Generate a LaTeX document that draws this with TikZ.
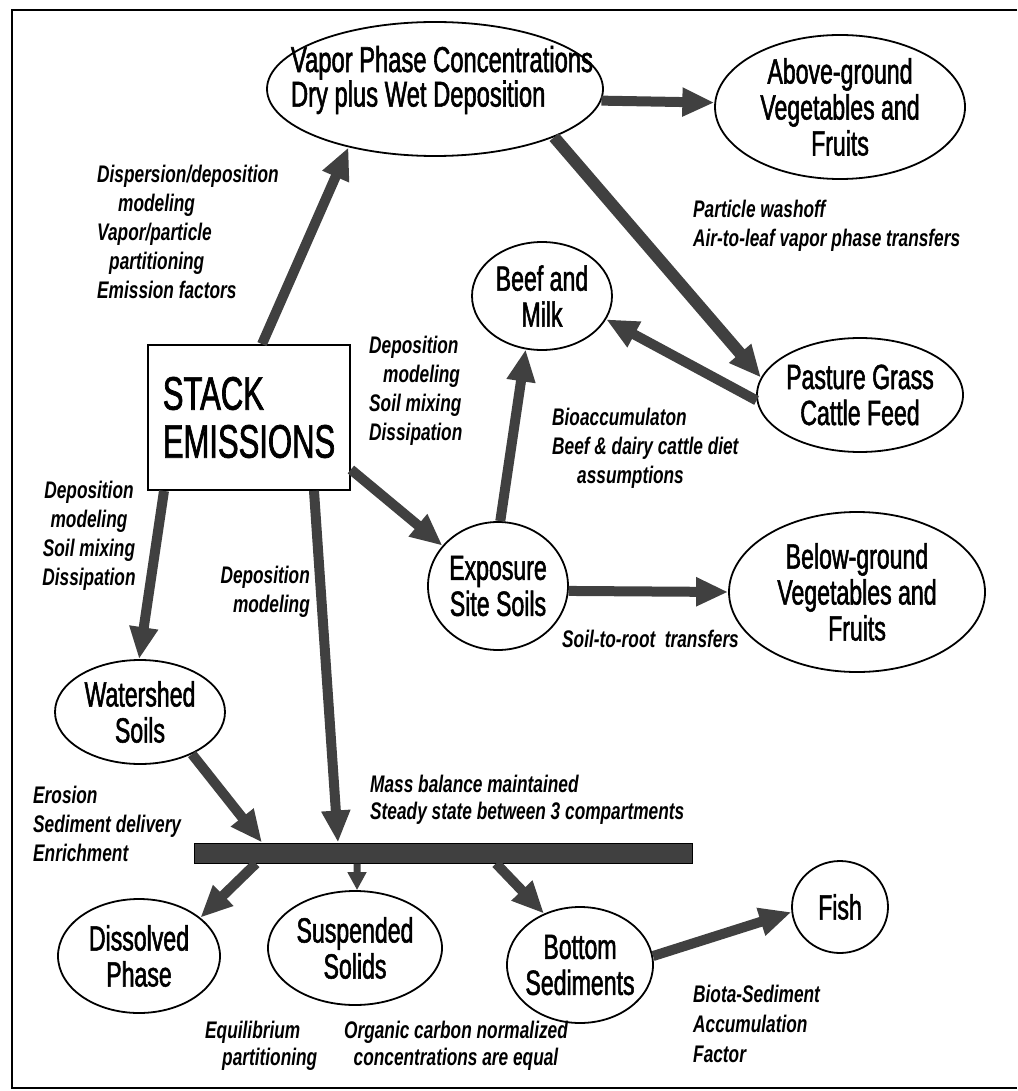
\documentclass[tikz,border=0pt]{standalone}
\usepackage{fontspec}
\setmainfont{Liberation Sans}[FakeStretch=0.72]
\newfontfamily\nodefont{Liberation Sans}[FakeStretch=0.66, FakeBold=1.5]
\usetikzlibrary{arrows.meta, shapes.geometric}

\begin{document}
\begin{tikzpicture}[x=1pt, y=-1pt,
    comp/.style={ellipse, draw, line width=1.8pt, inner sep=0pt},
    comptext/.style={inner sep=0pt, align=center, font=\fontsize{35}{36}\nodefont},
    lbl/.style={anchor=north west, inner sep=0pt, align=left, font=\fontsize{24}{29}\selectfont\bfseries\itshape},
    flow/.style={line width=10pt, draw=black!75, -{Triangle[length=32pt, width=27pt]}},
    ]
    \useasboundingbox (0,0) rectangle (1017,1091);

    % Draw the frame
    \draw[line width=2pt] (1017,10) -- (12,10) -- (12,1088) -- (1017,1088);

    % Draw the source box
    \node[draw, line width=1.8pt, minimum width=202pt, minimum height=145pt, align=left,
          font=\fontsize{47}{48}\nodefont] (stack) at (249,417.5) {STACK\\EMISSIONS};

    % Draw the compartments
    \node[comp, minimum width=336pt, minimum height=134pt] (vapor) at (435,89) {};
    \node[comptext, align=left, font=\fontsize{36}{32}\nodefont] (vapor-t) at ([xshift=7pt, yshift=9pt]vapor.center)
        {Vapor Phase Concentrations\\Dry plus Wet Deposition};
    \node[comp, minimum width=250pt, minimum height=144pt] (above) at (840,107) {};
    \node[comptext] (above-t) at (above) {Above-ground\\Vegetables and\\Fruits};
    \node[comp, minimum width=140pt, minimum height=108pt] (beef) at (542,296) {};
    \node[comptext] (beef-t) at (beef) {Beef and\\Milk};
    \node[comp, minimum width=206pt, minimum height=114pt] (pasture) at (860,395) {};
    \node[comptext] (pasture-t) at (pasture) {Pasture Grass\\Cattle Feed};
    \node[comp, minimum width=140pt, minimum height=128pt] (expo) at (498,586) {};
    \node[comptext] (expo-t) at (expo) {Exposure\\Site Soils};
    \node[comp, minimum width=256pt, minimum height=160pt] (below) at (857,592) {};
    \node[comptext] (below-t) at (below) {Below-ground\\Vegetables and\\Fruits};
    \node[comp, minimum width=170pt, minimum height=104pt] (water) at (140,712) {};
    \node[comptext] (water-t) at (water) {Watershed\\Soils};

    % Draw the water body bar
    \node[draw, line width=1pt, fill=black!75, minimum width=498pt, minimum height=20pt, inner sep=0pt] (bar) at (443,853) {};

    \node[comp, minimum width=162pt, minimum height=114pt] (dissolved) at (139,956) {};
    \node[comptext] (dissolved-t) at (dissolved) {Dissolved\\Phase};
    \node[comp, minimum width=174pt, minimum height=114pt] (suspended) at (355,948) {};
    \node[comptext] (suspended-t) at (suspended) {Suspended\\Solids};
    \node[comp, minimum width=146pt, minimum height=116pt] (bottom) at (580,965) {};
    \node[comptext] (bottom-t) at (bottom) {Bottom\\Sediments};
    \node[comp, minimum width=96pt, minimum height=92pt] (fish) at (840,907) {};
    \node[comptext] (fish-t) at (fish) {Fish};

    % Draw the transfer arrows
    \draw[flow] ([xshift=13pt]stack.north) -- (vapor.214);
    \draw[flow] (vapor.356) -- (above.178);
    \draw[flow, line width=12pt] (vapor.338) -- (pasture.170);
    \draw[flow] (pasture.183) -- (beef.340);
    \draw[flow] (expo.88) -- (beef.253);
    \draw[flow] ([yshift=-52pt]stack.east) -- (expo.144);
    \draw[flow] (expo.356) -- (below.180);
    \draw[flow] ([xshift=-85pt]stack.south) -- (water.91);
    \draw[flow] ([xshift=65pt]stack.south) -- ([xshift=-105pt]bar.north);
    \draw[flow] (water.321) -- ([xshift=-181pt]bar.north);
    \draw[flow] ([xshift=-187pt]bar.south) -- (dissolved.32);
    \draw[flow, line width=7pt, -{Triangle[length=18pt, width=18pt]}] ([xshift=-86pt]bar.south) -- (suspended.88);
    \draw[flow] ([xshift=53pt]bar.south) -- (bottom.125);
    \draw[flow] (bottom.7) -- (fish.186);

    % Labels on the transfers
    \node[lbl] (disp-lbl) at (97,164.5)
        {Dispersion/deposition\\\hspace*{21pt}modeling\\Vapor/particle\\\hspace*{12pt}partitioning\\Emission factors};
    \node[lbl] (soil-lbl) at (369,335.5) {Deposition\\\hspace*{14pt}modeling\\Soil mixing\\Dissipation};
    \node[lbl, anchor=north, align=center] (water-lbl) at (89,480.5) {Deposition\\modeling\\Soil mixing\\Dissipation};
    \node[lbl, anchor=north east, align=right] (bar-lbl) at (310,565.5) {Deposition\\modeling};
    \node[lbl] (bio-lbl) at (552,407.5) {Bioaccumulaton\\Beef \& dairy cattle diet\\\hspace*{25pt}assumptions};
    \node[lbl] (leaf-lbl) at (693,199.5) {Particle washoff\\Air-to-leaf vapor phase transfers};
    \node[lbl] (root-lbl) at (562,629.5) {Soil-to-root\ \ transfers};
    \node[lbl] (erosion-lbl) at (33,785.5) {Erosion\\Sediment delivery\\Enrichment};
    \node[lbl, font=\fontsize{24}{27}\selectfont\bfseries\itshape] (mass-lbl) at (370,774.5)
        {Mass balance maintained\\Steady state between 3 compartments};
    \node[lbl, font=\fontsize{24}{27}\selectfont\bfseries\itshape] (equi-lbl) at (205,1020.5)
        {Equilibrium\\\hspace*{17pt}partitioning};
    \node[lbl, anchor=north, align=center, font=\fontsize{24}{27}\selectfont\bfseries\itshape] (oc-lbl) at (456,1020.5)
        {Organic carbon normalized\\concentrations are equal};
    \node[lbl, font=\fontsize{24}{30}\selectfont\bfseries\itshape] (bsaf-lbl) at (693,984.5)
        {Biota-Sediment\\Accumulation\\Factor};
\end{tikzpicture}
\end{document}
